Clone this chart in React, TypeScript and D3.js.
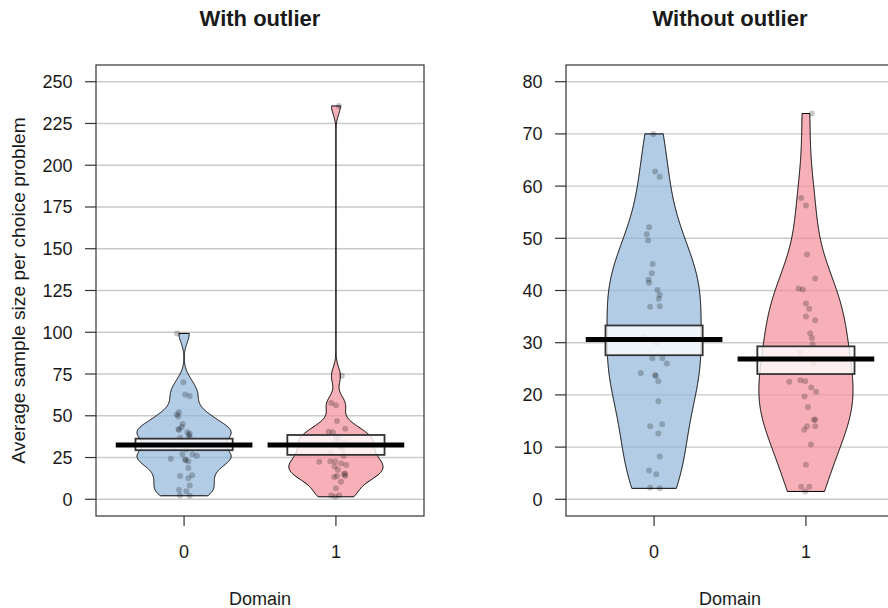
import React from 'react';
import * as d3 from 'd3';

// categories on the x axis
const domains = ['0', '1'];

// tick labels
const ticksWith = [0, 25, 50, 75, 100, 125, 150, 175, 200, 225, 250];
const ticksWithout = [0, 10, 20, 30, 40, 50, 60, 70, 80];

// average sample size per choice problem, domain 0 (outlier removed)
const domain0 = [70.0, 62.8, 61.8, 52.1, 50.8, 49.6, 45.1, 43.3, 42.1, 41.5, 40.1, 39.2, 38.4, 36.9, 37.0, 31.1, 30.0,
  27.0, 27.0, 26.0, 24.2, 23.8, 23.6, 22.6, 18.8, 14.0, 14.4, 12.6, 8.2, 5.5, 4.8, 2.2, 2.1];
// horizontal jitter (x units)
const jitter0 = [-0.005, 0.007, 0.037, -0.033, -0.048, -0.039, -0.009, -0.015, -0.037, -0.033, 0.022, 0.037, 0.031,
  -0.026, 0.037, -0.066, 0.015, -0.011, 0.055, 0.084, -0.088, 0.007, 0.011, 0.028, 0.028, -0.026, 0.053, 0.028, 0.037,
  -0.033, 0.015, -0.026, 0.037];

// domain 1 (outlier removed)
const domain1 = [73.9, 57.7, 56.3, 46.9, 42.3, 40.4, 40.2, 37.5, 36.5, 35.0, 34.3, 31.8, 30.9, 29.7, 28.1, 26.0, 22.5,
  22.8, 22.6, 21.4, 20.6, 19.7, 17.7, 15.3, 15.2, 14.0, 14.0, 13.3, 10.5, 6.6, 2.4, 2.4, 1.5];
const jitter1 = [0.039, -0.031, 0, 0.007, 0.061, -0.048, -0.02, 0, 0.022, 0, 0.061, 0.028, 0.039, 0.044, -0.037, 0.051,
  -0.11, -0.037, -0.005, 0.035, 0.068, -0.009, 0.013, 0.061, 0.053, 0.061, 0.007, -0.011, 0.033, 0, -0.031, 0.022, -0.005];

// the outliers
const outliers = [99.3, 235.5];
const outlierJitter = [-0.046, 0.02];

// means and inference bands
const meanWith = [32.5, 32.5];
const hdiLowWith = [29.4, 26.6];
const hdiHighWith = [36.3, 38.5];
const meanWithout = [30.6, 26.9];
const hdiLowWithout = [27.6, 24.0];
const hdiHighWithout = [33.3, 29.3];

const plotTop = 65;
const plotBottom = 516;
const plotWidth = 328;
const beanHalf = 0.31;
const boxHalf = 0.32;
const lineHalf = 0.45;
const beanFills = ['rgb(146,182,219)', 'rgb(244,142,154)'];
const font = '"Liberation Sans", Arial, sans-serif';
const ink = '#1a1a1a';

// R's bw.nrd0
function bwNrd0(v: number[]) {
  const s = [...v].sort(d3.ascending);
  const sd = d3.deviation(s) as number;
  const iqr = (d3.quantile(s, 0.75) as number) - (d3.quantile(s, 0.25) as number);
  const lo = Math.min(sd, iqr / 1.34) || sd || 1;
  return 0.9 * lo * Math.pow(s.length, -0.2);
}

// gaussian density, cut at the data range, scaled to max 1
function beanProfile(v: number[], adjust: number, steps = 500) {
  const bw = bwNrd0(v) * adjust;
  const [lo, hi] = d3.extent(v) as [number, number];
  const dens = d3.range(steps + 1).map((i) => {
    const g = lo + ((hi - lo) * i) / steps;
    return { y: g, d: d3.sum(v, (x) => Math.exp(-0.5 * ((g - x) / bw) ** 2)) };
  });
  const m = d3.max(dens, (p) => p.d) as number;
  return dens.map((p) => ({ y: p.y, w: p.d / m }));
}

type Group = { values: number[]; jitter: number[] };

type PanelProps = {
  left: number;
  title: string;
  ticks: number[];
  groups: Group[];
  means: number[];
  hdiLow: number[];
  hdiHigh: number[];
  adjust: number;
  yLabel?: string;
};

function Panel({ left, title, ticks, groups, means, hdiLow, hdiHigh, adjust, yLabel }: PanelProps) {
  const x = d3.scaleLinear().domain([0.42, 2.58]).range([left, left + plotWidth]);
  const ymax = ticks[ticks.length - 1];
  const pad = ymax * 0.04;
  const y = d3.scaleLinear().domain([-pad, ymax + pad]).range([plotBottom, plotTop]);
  const cx = left + plotWidth / 2;

  return (
    <g>
      <text x={cx} y={26} textAnchor="middle" fontFamily={font} fontWeight="bold" fontSize={22} fill={ink}>
        {title}
      </text>

      {/* grid */}
      {ticks.map((t) => (
        <line key={`g${t}`} x1={left} x2={left + plotWidth} y1={y(t)} y2={y(t)} stroke="#c9c9c9" strokeWidth={1.4} />
      ))}

      {/* beans */}
      {groups.map((g, i) => {
        const pos = i + 1;
        const area = d3
          .area<{ y: number; w: number }>()
          .y((p) => y(p.y))
          .x0((p) => x(pos - p.w * beanHalf))
          .x1((p) => x(pos + p.w * beanHalf));
        return (
          <path
            key={`b${i}`}
            d={area(beanProfile(g.values, adjust)) || ''}
            fill={beanFills[i]}
            fillOpacity={0.7}
            stroke="#000"
            strokeWidth={1}
          />
        );
      })}

      {/* points */}
      {groups.map((g, i) =>
        g.values.map((v, j) => (
          <circle key={`p${i}-${j}`} cx={x(i + 1 + g.jitter[j])} cy={y(v)} r={3} fill="#000" fillOpacity={0.22} />
        ))
      )}

      {/* inference bands */}
      {groups.map((g, i) => (
        <rect
          key={`r${i}`}
          x={x(i + 1 - boxHalf)}
          y={y(hdiHigh[i])}
          width={x(i + 1 + boxHalf) - x(i + 1 - boxHalf)}
          height={y(hdiLow[i]) - y(hdiHigh[i])}
          fill="#fff"
          fillOpacity={0.8}
          stroke="#333"
          strokeWidth={1.8}
        />
      ))}

      {/* means */}
      {groups.map((g, i) => (
        <line
          key={`m${i}`}
          x1={x(i + 1 - lineHalf)}
          x2={x(i + 1 + lineHalf)}
          y1={y(means[i])}
          y2={y(means[i])}
          stroke="#000"
          strokeWidth={5}
        />
      ))}

      {/* frame */}
      <rect x={left} y={plotTop} width={plotWidth} height={plotBottom - plotTop} fill="none" stroke="#333" strokeWidth={1.2} />

      {/* y axis */}
      {ticks.map((t) => (
        <g key={`t${t}`}>
          <line x1={left - 11} x2={left} y1={y(t)} y2={y(t)} stroke="#333" strokeWidth={1.2} />
          <text x={left - 23.5} y={y(t) + 6.5} textAnchor="end" fontFamily={font} fontSize={18} fill={ink}>
            {t}
          </text>
        </g>
      ))}

      {/* x axis */}
      {domains.map((d, i) => (
        <g key={`x${d}`}>
          <line x1={x(i + 1)} x2={x(i + 1)} y1={plotBottom} y2={plotBottom + 10} stroke="#333" strokeWidth={1.2} />
          <text x={x(i + 1)} y={558} textAnchor="middle" fontFamily={font} fontSize={18} fill={ink}>
            {d}
          </text>
        </g>
      ))}
      <text x={cx} y={605} textAnchor="middle" fontFamily={font} fontSize={18} fill={ink}>
        Domain
      </text>

      {yLabel && (
        <text
          transform={`translate(25,${(plotTop + plotBottom) / 2}) rotate(-90)`}
          textAnchor="middle"
          fontFamily={font}
          fontSize={19.2}
          fill={ink}
        >
          {yLabel}
        </text>
      )}
    </g>
  );
}

export default function App() {
  const withOutlier: Group[] = [
    { values: [...domain0, outliers[0]], jitter: [...jitter0, outlierJitter[0]] },
    { values: [...domain1, outliers[1]], jitter: [...jitter1, outlierJitter[1]] },
  ];
  const withoutOutlier: Group[] = [
    { values: domain0, jitter: jitter0 },
    { values: domain1, jitter: jitter1 },
  ];

  return (
    <svg width={888} height={608} style={{ position: 'absolute', left: 0, top: 0, background: '#fff' }}>
      <Panel
        left={96}
        title="With outlier"
        ticks={ticksWith}
        groups={withOutlier}
        means={meanWith}
        hdiLow={hdiLowWith}
        hdiHigh={hdiHighWith}
        adjust={0.7}
        yLabel="Average sample size per choice problem"
      />
      <Panel
        left={566}
        title="Without outlier"
        ticks={ticksWithout}
        groups={withoutOutlier}
        means={meanWithout}
        hdiLow={hdiLowWithout}
        hdiHigh={hdiHighWithout}
        adjust={1}
      />
    </svg>
  );
}
